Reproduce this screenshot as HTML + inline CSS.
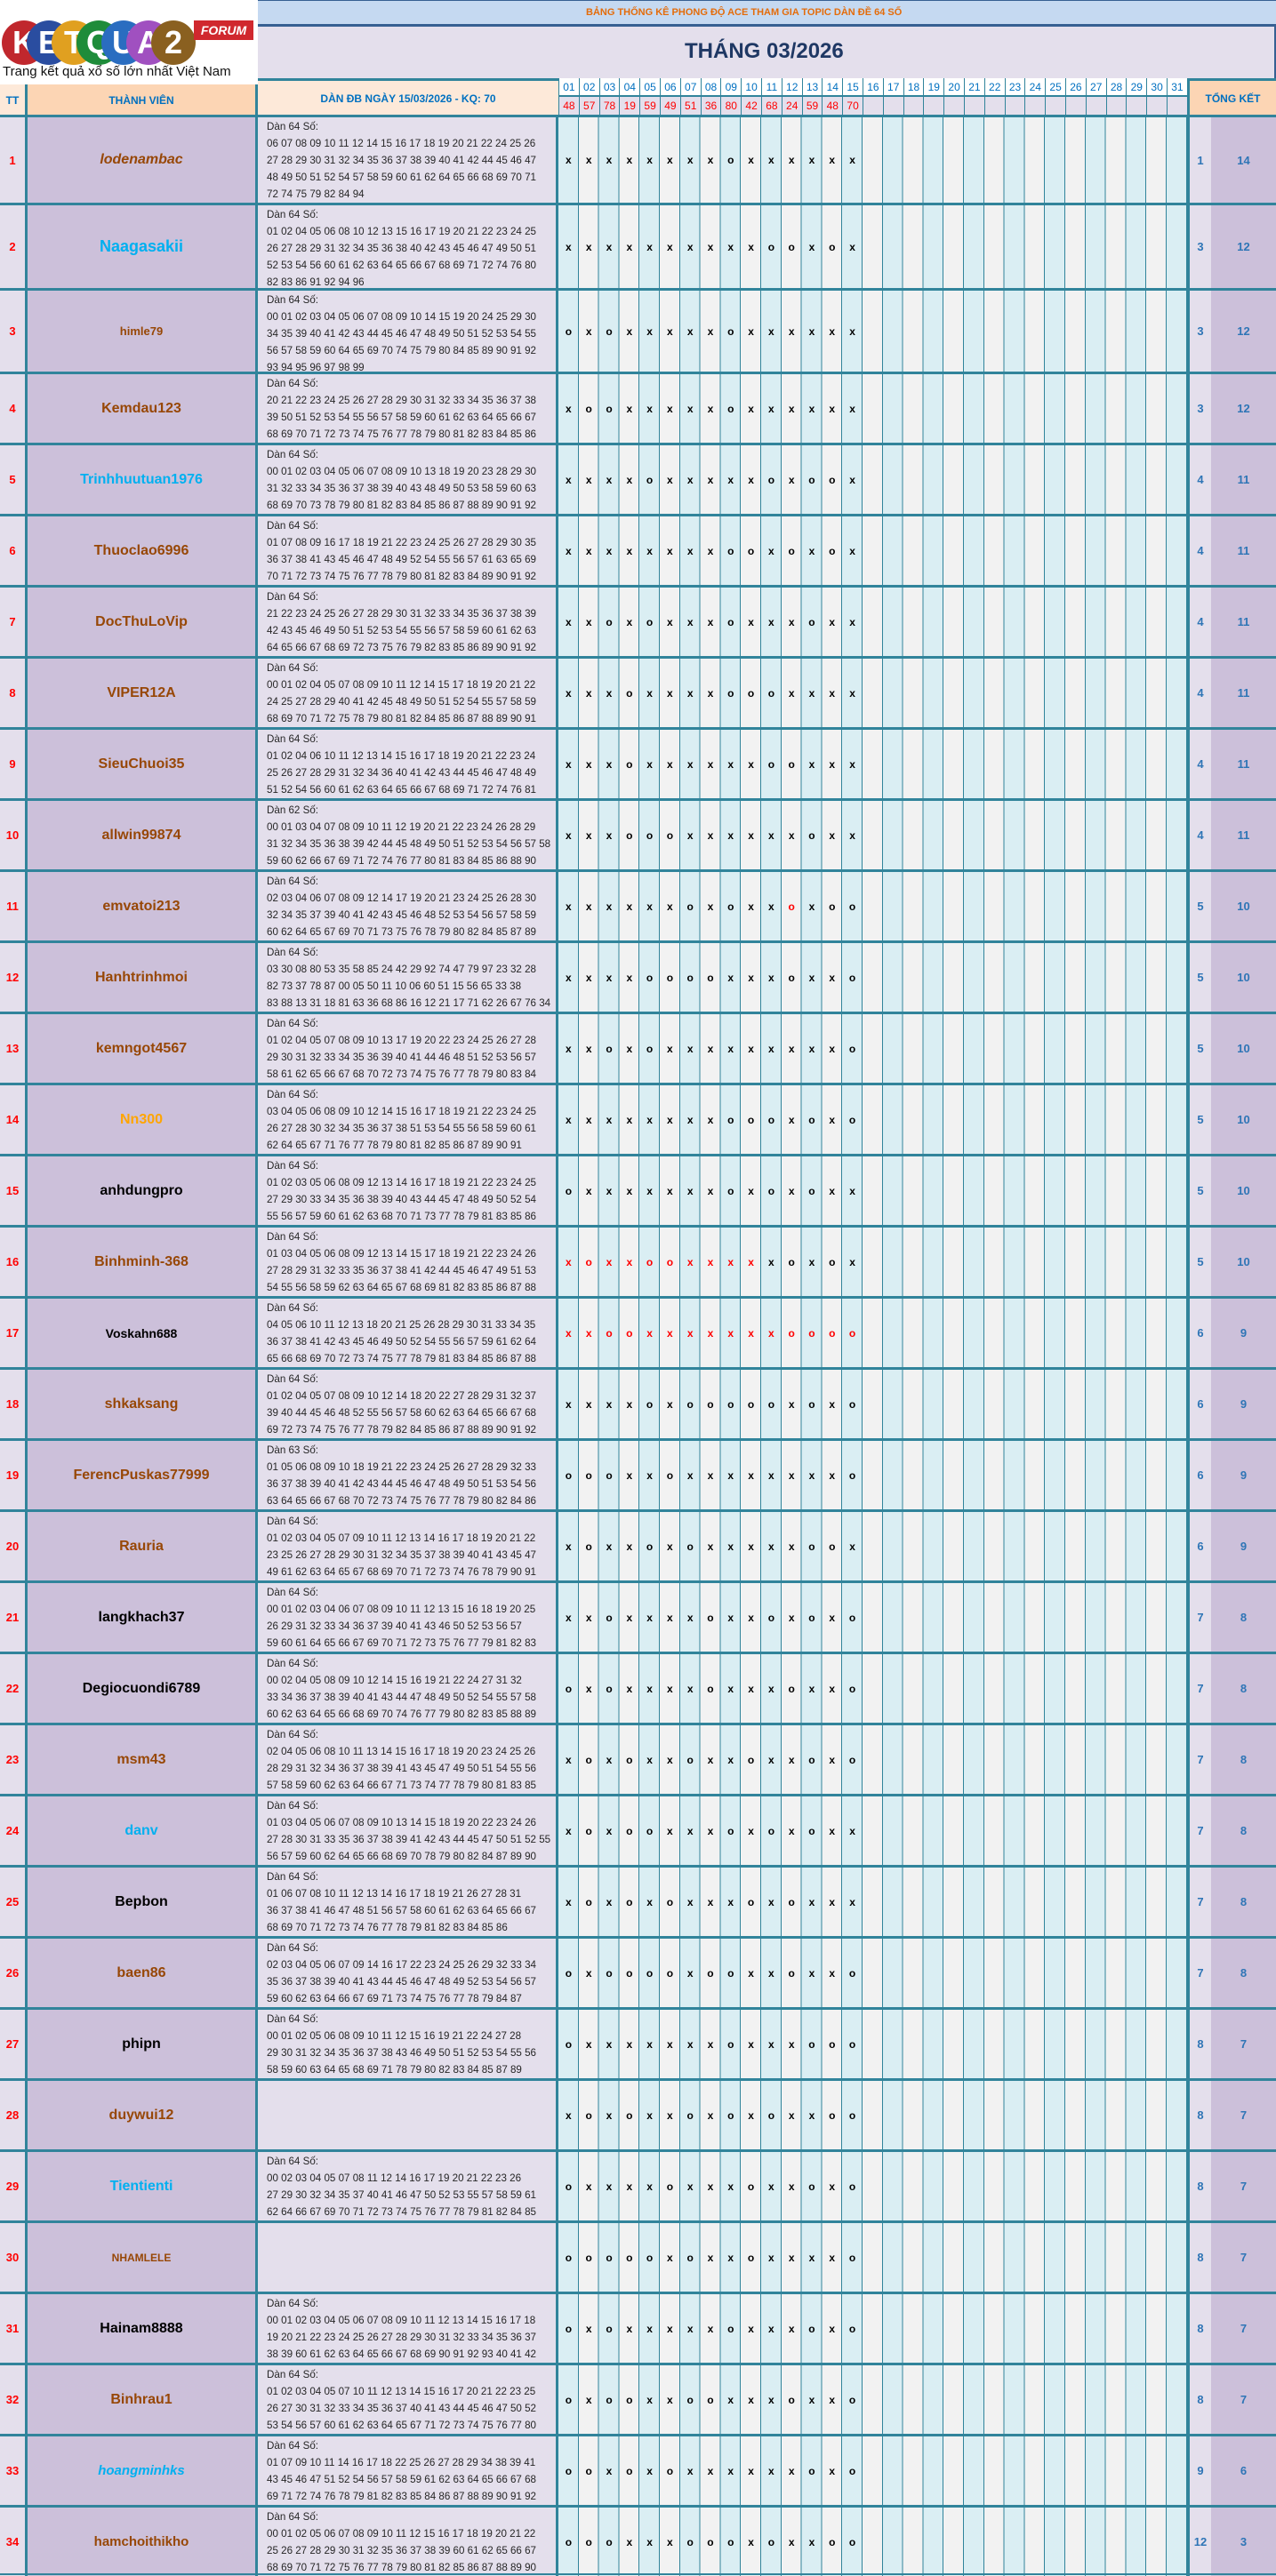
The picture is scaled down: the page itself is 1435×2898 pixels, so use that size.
<!DOCTYPE html>
<html><head><meta charset="utf-8">
<style>
*{box-sizing:border-box}
body{margin:0;width:1435px;height:2897px;position:relative;background:#e4dfec;font-family:"Liberation Sans",sans-serif;overflow:hidden}
.a{position:absolute}
.r{position:absolute;left:0;width:1435px;height:80px;border-top:3px solid #31849b;overflow:hidden}
.r>div{position:absolute;top:0;bottom:0}
.tt{left:0;width:28px;background:#e4dfec;color:#f00;font-weight:bold;font-size:13px;display:flex;align-items:center;justify-content:center}
.nm{left:28px;width:262px;background:#ccc0da;border-left:3px solid #31849b;border-right:3px solid #31849b;display:flex;align-items:center;justify-content:center;font-weight:bold;font-size:16px;color:#974706}
.dn{left:290px;width:338px;background:#e4dfec;border-right:3px solid #31849b;padding:1px 0 0 10px;font-size:11.6px;line-height:19px;color:#262626;white-space:nowrap;overflow:hidden}
.dy{left:628px;width:707px;background:repeating-linear-gradient(90deg,#daeef3 0 21.8px,#31849b 21.8px 22.8px,#f2f2f2 22.8px 44.6px,#31849b 44.6px 45.6px);display:flex;align-items:center}
.dy i{font-style:normal;width:22.8px;text-align:center;font-weight:bold;font-size:12px;color:#000}
.red i{color:#f00}
.c1{left:1335px;width:27px;background:#e4dfec;border-left:3px solid #31849b;color:#2e75b6;font-weight:bold;font-size:13px;display:flex;align-items:center;justify-content:center}
.c2{left:1362px;width:73px;background:#ccc0da;color:#2e75b6;font-weight:bold;font-size:13px;display:flex;align-items:center;justify-content:center}
.sb{color:#00b0f0}.bk{color:#000}.og{color:#ffa500}
.circ{position:absolute;top:23px;width:50px;height:50px;border-radius:50%;color:#fff;font-weight:bold;font-size:36px;text-align:center;line-height:50px}
.hd{position:absolute;top:88px;height:20px;width:22.8px;text-align:center;font-size:12px;color:#0070c0;line-height:20px;background:#fff;border-left:1px solid #31849b}
.hr{position:absolute;top:108px;height:22px;width:22.8px;text-align:center;font-size:12px;color:#f00;line-height:22px;border-left:1px solid #31849b;background:#e4dfec}
</style></head><body>
<div class="a" style="left:0;top:0;width:290px;height:95px;background:#fff"></div>
<div class="circ" style="left:2px;background:#c0272d">K</div>
<div class="circ" style="left:30px;background:#2a4da0">E</div>
<div class="circ" style="left:58px;background:#e0a020">T</div>
<div class="circ" style="left:86px;background:#1e8c3a">Q</div>
<div class="circ" style="left:114px;background:#2a6dc0">U</div>
<div class="circ" style="left:142px;background:#a050c0">A</div>
<div class="circ" style="left:170px;background:#8a6020">2</div>
<div class="a" style="left:218px;top:23px;width:67px;height:22px;background:#d0282e;color:#fff;font-weight:bold;font-style:italic;font-size:14px;text-align:center;line-height:22px">FORUM</div>
<div class="a" style="left:3px;top:72px;font-size:15px;color:#111;white-space:nowrap">Trang kết quả xổ số lớn nhất Việt Nam</div>
<div class="a" style="left:290px;top:0;width:1145px;height:30px;background:#c5d9f1;border-top:1px solid #366092;border-bottom:3px solid #366092"></div>
<div class="a" style="left:659px;top:8px;font-size:11px;font-weight:bold;color:#e46c0a;white-space:nowrap">BẢNG THỐNG KÊ PHONG ĐỘ ACE THAM GIA TOPIC DÀN ĐỀ 64 SỐ</div>
<div class="a" style="left:290px;top:30px;width:1145px;height:58px;background:#e4dfec;border-right:2px solid #366092"></div>
<div class="a" style="left:770px;top:44px;font-size:24px;font-weight:bold;color:#1f3864">THÁNG 03/2026</div>
<div class="a" style="left:0;top:95px;width:28px;height:36px;background:#fde9d9;color:#0070c0;font-weight:bold;font-size:12px;text-align:center;line-height:36px">TT</div>
<div class="a" style="left:28px;top:95px;width:262px;height:36px;background:#fcd5b4;border-left:3px solid #31849b;border-right:3px solid #31849b;color:#0070c0;font-weight:bold;font-size:12px;text-align:center;line-height:36px">THÀNH VIÊN</div>
<div class="a" style="left:290px;top:88px;width:338px;height:43px;background:#fde9d9;border-top:3px solid #31849b;color:#0070c0;font-weight:bold;font-size:12px;text-align:center;line-height:40px">DÀN ĐB NGÀY 15/03/2026 - KQ: 70</div>
<div class="a" style="left:628px;top:88px;width:707px;height:43px;background:#fff;border-top:3px solid #31849b"></div>
<div class="hd" style="left:628.0px">01</div><div class="hd" style="left:650.8px">02</div><div class="hd" style="left:673.6px">03</div><div class="hd" style="left:696.4px">04</div><div class="hd" style="left:719.2px">05</div><div class="hd" style="left:742.0px">06</div><div class="hd" style="left:764.8px">07</div><div class="hd" style="left:787.6px">08</div><div class="hd" style="left:810.4px">09</div><div class="hd" style="left:833.2px">10</div><div class="hd" style="left:856.0px">11</div><div class="hd" style="left:878.8px">12</div><div class="hd" style="left:901.6px">13</div><div class="hd" style="left:924.4px">14</div><div class="hd" style="left:947.2px">15</div><div class="hd" style="left:970.0px">16</div><div class="hd" style="left:992.8px">17</div><div class="hd" style="left:1015.6px">18</div><div class="hd" style="left:1038.4px">19</div><div class="hd" style="left:1061.2px">20</div><div class="hd" style="left:1084.0px">21</div><div class="hd" style="left:1106.8px">22</div><div class="hd" style="left:1129.6px">23</div><div class="hd" style="left:1152.4px">24</div><div class="hd" style="left:1175.2px">25</div><div class="hd" style="left:1198.0px">26</div><div class="hd" style="left:1220.8px">27</div><div class="hd" style="left:1243.6px">28</div><div class="hd" style="left:1266.4px">29</div><div class="hd" style="left:1289.2px">30</div><div class="hd" style="left:1312.0px">31</div>
<div class="hr" style="left:628.0px">48</div><div class="hr" style="left:650.8px">57</div><div class="hr" style="left:673.6px">78</div><div class="hr" style="left:696.4px">19</div><div class="hr" style="left:719.2px">59</div><div class="hr" style="left:742.0px">49</div><div class="hr" style="left:764.8px">51</div><div class="hr" style="left:787.6px">36</div><div class="hr" style="left:810.4px">80</div><div class="hr" style="left:833.2px">42</div><div class="hr" style="left:856.0px">68</div><div class="hr" style="left:878.8px">24</div><div class="hr" style="left:901.6px">59</div><div class="hr" style="left:924.4px">48</div><div class="hr" style="left:947.2px">70</div><div class="hr" style="left:970.0px"></div><div class="hr" style="left:992.8px"></div><div class="hr" style="left:1015.6px"></div><div class="hr" style="left:1038.4px"></div><div class="hr" style="left:1061.2px"></div><div class="hr" style="left:1084.0px"></div><div class="hr" style="left:1106.8px"></div><div class="hr" style="left:1129.6px"></div><div class="hr" style="left:1152.4px"></div><div class="hr" style="left:1175.2px"></div><div class="hr" style="left:1198.0px"></div><div class="hr" style="left:1220.8px"></div><div class="hr" style="left:1243.6px"></div><div class="hr" style="left:1266.4px"></div><div class="hr" style="left:1289.2px"></div><div class="hr" style="left:1312.0px"></div>
<div class="a" style="left:628px;top:107px;width:707px;height:2px;background:#31849b"></div>
<div class="a" style="left:1335px;top:88px;width:100px;height:43px;background:#fcd5b4;border-left:3px solid #31849b;border-top:3px solid #31849b;color:#0070c0;font-weight:bold;font-size:12px;text-align:center;line-height:40px">TỔNG KẾT</div>

<div class="r" style="top:129px;height:99px"><div class="tt">1</div><div class="nm" style="font-style:italic">lodenambac</div><div class="dn">Dàn 64 Số:<br>06 07 08 09 10 11 12 14 15 16 17 18 19 20 21 22 24 25 26<br>27 28 29 30 31 32 34 35 36 37 38 39 40 41 42 44 45 46 47<br>48 49 50 51 52 54 57 58 59 60 61 62 64 65 66 68 69 70 71<br>72 74 75 79 82 84 94</div><div class="dy"><i>x</i><i>x</i><i>x</i><i>x</i><i>x</i><i>x</i><i>x</i><i>x</i><i>o</i><i>x</i><i>x</i><i>x</i><i>x</i><i>x</i><i>x</i></div><div class="c1">1</div><div class="c2">14</div></div>
<div class="r" style="top:228px;height:96px"><div class="tt">2</div><div class="nm sb" style="font-size:18px">Naagasakii</div><div class="dn">Dàn 64 Số:<br>01 02 04 05 06 08 10 12 13 15 16 17 19 20 21 22 23 24 25<br>26 27 28 29 31 32 34 35 36 38 40 42 43 45 46 47 49 50 51<br>52 53 54 56 60 61 62 63 64 65 66 67 68 69 71 72 74 76 80<br>82 83 86 91 92 94 96</div><div class="dy"><i>x</i><i>x</i><i>x</i><i>x</i><i>x</i><i>x</i><i>x</i><i>x</i><i>x</i><i>x</i><i>o</i><i>o</i><i>x</i><i>o</i><i>x</i></div><div class="c1">3</div><div class="c2">12</div></div>
<div class="r" style="top:324px;height:94px"><div class="tt">3</div><div class="nm" style="font-size:13px">himle79</div><div class="dn">Dàn 64 Số:<br>00 01 02 03 04 05 06 07 08 09 10 14 15 19 20 24 25 29 30<br>34 35 39 40 41 42 43 44 45 46 47 48 49 50 51 52 53 54 55<br>56 57 58 59 60 64 65 69 70 74 75 79 80 84 85 89 90 91 92<br>93 94 95 96 97 98 99</div><div class="dy"><i>o</i><i>x</i><i>o</i><i>x</i><i>x</i><i>x</i><i>x</i><i>x</i><i>o</i><i>x</i><i>x</i><i>x</i><i>x</i><i>x</i><i>x</i></div><div class="c1">3</div><div class="c2">12</div></div>
<div class="r" style="top:418px"><div class="tt">4</div><div class="nm">Kemdau123</div><div class="dn">Dàn 64 Số:<br>20 21 22 23 24 25 26 27 28 29 30 31 32 33 34 35 36 37 38<br>39 50 51 52 53 54 55 56 57 58 59 60 61 62 63 64 65 66 67<br>68 69 70 71 72 73 74 75 76 77 78 79 80 81 82 83 84 85 86</div><div class="dy"><i>x</i><i>o</i><i>o</i><i>x</i><i>x</i><i>x</i><i>x</i><i>x</i><i>o</i><i>x</i><i>x</i><i>x</i><i>x</i><i>x</i><i>x</i></div><div class="c1">3</div><div class="c2">12</div></div>
<div class="r" style="top:498px"><div class="tt">5</div><div class="nm sb">Trinhhuutuan1976</div><div class="dn">Dàn 64 Số:<br>00 01 02 03 04 05 06 07 08 09 10 13 18 19 20 23 28 29 30<br>31 32 33 34 35 36 37 38 39 40 43 48 49 50 53 58 59 60 63<br>68 69 70 73 78 79 80 81 82 83 84 85 86 87 88 89 90 91 92</div><div class="dy"><i>x</i><i>x</i><i>x</i><i>x</i><i>o</i><i>x</i><i>x</i><i>x</i><i>x</i><i>x</i><i>o</i><i>x</i><i>o</i><i>o</i><i>x</i></div><div class="c1">4</div><div class="c2">11</div></div>
<div class="r" style="top:578px"><div class="tt">6</div><div class="nm">Thuoclao6996</div><div class="dn">Dàn 64 Số:<br>01 07 08 09 16 17 18 19 21 22 23 24 25 26 27 28 29 30 35<br>36 37 38 41 43 45 46 47 48 49 52 54 55 56 57 61 63 65 69<br>70 71 72 73 74 75 76 77 78 79 80 81 82 83 84 89 90 91 92</div><div class="dy"><i>x</i><i>x</i><i>x</i><i>x</i><i>x</i><i>x</i><i>x</i><i>x</i><i>o</i><i>o</i><i>x</i><i>o</i><i>x</i><i>o</i><i>x</i></div><div class="c1">4</div><div class="c2">11</div></div>
<div class="r" style="top:658px"><div class="tt">7</div><div class="nm">DocThuLoVip</div><div class="dn">Dàn 64 Số:<br>21 22 23 24 25 26 27 28 29 30 31 32 33 34 35 36 37 38 39<br>42 43 45 46 49 50 51 52 53 54 55 56 57 58 59 60 61 62 63<br>64 65 66 67 68 69 72 73 75 76 79 82 83 85 86 89 90 91 92</div><div class="dy"><i>x</i><i>x</i><i>o</i><i>x</i><i>o</i><i>x</i><i>x</i><i>x</i><i>o</i><i>x</i><i>x</i><i>x</i><i>o</i><i>x</i><i>x</i></div><div class="c1">4</div><div class="c2">11</div></div>
<div class="r" style="top:738px"><div class="tt">8</div><div class="nm">VIPER12A</div><div class="dn">Dàn 64 Số:<br>00 01 02 04 05 07 08 09 10 11 12 14 15 17 18 19 20 21 22<br>24 25 27 28 29 40 41 42 45 48 49 50 51 52 54 55 57 58 59<br>68 69 70 71 72 75 78 79 80 81 82 84 85 86 87 88 89 90 91</div><div class="dy"><i>x</i><i>x</i><i>x</i><i>o</i><i>x</i><i>x</i><i>x</i><i>x</i><i>o</i><i>o</i><i>o</i><i>x</i><i>x</i><i>x</i><i>x</i></div><div class="c1">4</div><div class="c2">11</div></div>
<div class="r" style="top:818px"><div class="tt">9</div><div class="nm">SieuChuoi35</div><div class="dn">Dàn 64 Số:<br>01 02 04 06 10 11 12 13 14 15 16 17 18 19 20 21 22 23 24<br>25 26 27 28 29 31 32 34 36 40 41 42 43 44 45 46 47 48 49<br>51 52 54 56 60 61 62 63 64 65 66 67 68 69 71 72 74 76 81</div><div class="dy"><i>x</i><i>x</i><i>x</i><i>o</i><i>x</i><i>x</i><i>x</i><i>x</i><i>x</i><i>x</i><i>o</i><i>o</i><i>x</i><i>x</i><i>x</i></div><div class="c1">4</div><div class="c2">11</div></div>
<div class="r" style="top:898px"><div class="tt">10</div><div class="nm">allwin99874</div><div class="dn">Dàn 62 Số:<br>00 01 03 04 07 08 09 10 11 12 19 20 21 22 23 24 26 28 29<br>31 32 34 35 36 38 39 42 44 45 48 49 50 51 52 53 54 56 57 58<br>59 60 62 66 67 69 71 72 74 76 77 80 81 83 84 85 86 88 90</div><div class="dy"><i>x</i><i>x</i><i>x</i><i>o</i><i>o</i><i>o</i><i>x</i><i>x</i><i>x</i><i>x</i><i>x</i><i>x</i><i>o</i><i>x</i><i>x</i></div><div class="c1">4</div><div class="c2">11</div></div>
<div class="r" style="top:978px"><div class="tt">11</div><div class="nm">emvatoi213</div><div class="dn">Dàn 64 Số:<br>02 03 04 06 07 08 09 12 14 17 19 20 21 23 24 25 26 28 30<br>32 34 35 37 39 40 41 42 43 45 46 48 52 53 54 56 57 58 59<br>60 62 64 65 67 69 70 71 73 75 76 78 79 80 82 84 85 87 89</div><div class="dy"><i>x</i><i>x</i><i>x</i><i>x</i><i>x</i><i>x</i><i>o</i><i>x</i><i>o</i><i>x</i><i>x</i><i style="color:#f00">o</i><i>x</i><i>o</i><i>o</i></div><div class="c1">5</div><div class="c2">10</div></div>
<div class="r" style="top:1058px"><div class="tt">12</div><div class="nm">Hanhtrinhmoi</div><div class="dn">Dàn 64 Số:<br>03 30 08 80 53 35 58 85 24 42 29 92 74 47 79 97 23 32 28<br>82 73 37 78 87 00 05 50 11 10 06 60 51 15 56 65 33 38<br>83 88 13 31 18 81 63 36 68 86 16 12 21 17 71 62 26 67 76 34</div><div class="dy"><i>x</i><i>x</i><i>x</i><i>x</i><i>o</i><i>o</i><i>o</i><i>o</i><i>x</i><i>x</i><i>x</i><i>o</i><i>x</i><i>x</i><i>o</i></div><div class="c1">5</div><div class="c2">10</div></div>
<div class="r" style="top:1138px"><div class="tt">13</div><div class="nm">kemngot4567</div><div class="dn">Dàn 64 Số:<br>01 02 04 05 07 08 09 10 13 17 19 20 22 23 24 25 26 27 28<br>29 30 31 32 33 34 35 36 39 40 41 44 46 48 51 52 53 56 57<br>58 61 62 65 66 67 68 70 72 73 74 75 76 77 78 79 80 83 84</div><div class="dy"><i>x</i><i>x</i><i>o</i><i>x</i><i>o</i><i>x</i><i>x</i><i>x</i><i>x</i><i>x</i><i>x</i><i>x</i><i>x</i><i>x</i><i>o</i></div><div class="c1">5</div><div class="c2">10</div></div>
<div class="r" style="top:1218px"><div class="tt">14</div><div class="nm og">Nn300</div><div class="dn">Dàn 64 Số:<br>03 04 05 06 08 09 10 12 14 15 16 17 18 19 21 22 23 24 25<br>26 27 28 30 32 34 35 36 37 38 51 53 54 55 56 58 59 60 61<br>62 64 65 67 71 76 77 78 79 80 81 82 85 86 87 89 90 91</div><div class="dy"><i>x</i><i>x</i><i>x</i><i>x</i><i>x</i><i>x</i><i>x</i><i>x</i><i>o</i><i>o</i><i>o</i><i>x</i><i>o</i><i>x</i><i>o</i></div><div class="c1">5</div><div class="c2">10</div></div>
<div class="r" style="top:1298px"><div class="tt">15</div><div class="nm bk">anhdungpro</div><div class="dn">Dàn 64 Số:<br>01 02 03 05 06 08 09 12 13 14 16 17 18 19 21 22 23 24 25<br>27 29 30 33 34 35 36 38 39 40 43 44 45 47 48 49 50 52 54<br>55 56 57 59 60 61 62 63 68 70 71 73 77 78 79 81 83 85 86</div><div class="dy"><i>o</i><i>x</i><i>x</i><i>x</i><i>x</i><i>x</i><i>x</i><i>x</i><i>o</i><i>x</i><i>o</i><i>x</i><i>o</i><i>x</i><i>x</i></div><div class="c1">5</div><div class="c2">10</div></div>
<div class="r" style="top:1378px"><div class="tt">16</div><div class="nm">Binhminh-368</div><div class="dn">Dàn 64 Số:<br>01 03 04 05 06 08 09 12 13 14 15 17 18 19 21 22 23 24 26<br>27 28 29 31 32 33 35 36 37 38 41 42 44 45 46 47 49 51 53<br>54 55 56 58 59 62 63 64 65 67 68 69 81 82 83 85 86 87 88</div><div class="dy red"><i>x</i><i>o</i><i>x</i><i>x</i><i>o</i><i>o</i><i>x</i><i>x</i><i>x</i><i>x</i><i style="color:#000">x</i><i style="color:#000">o</i><i style="color:#000">x</i><i style="color:#000">o</i><i style="color:#000">x</i></div><div class="c1">5</div><div class="c2">10</div></div>
<div class="r" style="top:1458px"><div class="tt">17</div><div class="nm bk" style="font-size:14px">Voskahn688</div><div class="dn">Dàn 64 Số:<br>04 05 06 10 11 12 13 18 20 21 25 26 28 29 30 31 33 34 35<br>36 37 38 41 42 43 45 46 49 50 52 54 55 56 57 59 61 62 64<br>65 66 68 69 70 72 73 74 75 77 78 79 81 83 84 85 86 87 88</div><div class="dy red"><i>x</i><i>x</i><i>o</i><i>o</i><i>x</i><i>x</i><i>x</i><i>x</i><i>x</i><i>x</i><i>x</i><i>o</i><i>o</i><i>o</i><i>o</i></div><div class="c1">6</div><div class="c2">9</div></div>
<div class="r" style="top:1538px"><div class="tt">18</div><div class="nm">shkaksang</div><div class="dn">Dàn 64 Số:<br>01 02 04 05 07 08 09 10 12 14 18 20 22 27 28 29 31 32 37<br>39 40 44 45 46 48 52 55 56 57 58 60 62 63 64 65 66 67 68<br>69 72 73 74 75 76 77 78 79 82 84 85 86 87 88 89 90 91 92</div><div class="dy"><i>x</i><i>x</i><i>x</i><i>x</i><i>o</i><i>x</i><i>o</i><i>o</i><i>o</i><i>o</i><i>o</i><i>x</i><i>o</i><i>x</i><i>o</i></div><div class="c1">6</div><div class="c2">9</div></div>
<div class="r" style="top:1618px"><div class="tt">19</div><div class="nm">FerencPuskas77999</div><div class="dn">Dàn 63 Số:<br>01 05 06 08 09 10 18 19 21 22 23 24 25 26 27 28 29 32 33<br>36 37 38 39 40 41 42 43 44 45 46 47 48 49 50 51 53 54 56<br>63 64 65 66 67 68 70 72 73 74 75 76 77 78 79 80 82 84 86</div><div class="dy"><i>o</i><i>o</i><i>o</i><i>x</i><i>x</i><i>o</i><i>x</i><i>x</i><i>x</i><i>x</i><i>x</i><i>x</i><i>x</i><i>x</i><i>o</i></div><div class="c1">6</div><div class="c2">9</div></div>
<div class="r" style="top:1698px"><div class="tt">20</div><div class="nm">Rauria</div><div class="dn">Dàn 64 Số:<br>01 02 03 04 05 07 09 10 11 12 13 14 16 17 18 19 20 21 22<br>23 25 26 27 28 29 30 31 32 34 35 37 38 39 40 41 43 45 47<br>49 61 62 63 64 65 67 68 69 70 71 72 73 74 76 78 79 90 91</div><div class="dy"><i>x</i><i>o</i><i>x</i><i>x</i><i>o</i><i>x</i><i>o</i><i>x</i><i>x</i><i>x</i><i>x</i><i>x</i><i>o</i><i>o</i><i>x</i></div><div class="c1">6</div><div class="c2">9</div></div>
<div class="r" style="top:1778px"><div class="tt">21</div><div class="nm bk">langkhach37</div><div class="dn">Dàn 64 Số:<br>00 01 02 03 04 06 07 08 09 10 11 12 13 15 16 18 19 20 25<br>26 29 31 32 33 34 36 37 39 40 41 43 46 50 52 53 56 57<br>59 60 61 64 65 66 67 69 70 71 72 73 75 76 77 79 81 82 83</div><div class="dy"><i>x</i><i>x</i><i>o</i><i>x</i><i>x</i><i>x</i><i>x</i><i>o</i><i>x</i><i>x</i><i>o</i><i>x</i><i>o</i><i>x</i><i>o</i></div><div class="c1">7</div><div class="c2">8</div></div>
<div class="r" style="top:1858px"><div class="tt">22</div><div class="nm bk">Degiocuondi6789</div><div class="dn">Dàn 64 Số:<br>00 02 04 05 08 09 10 12 14 15 16 19 21 22 24 27 31 32<br>33 34 36 37 38 39 40 41 43 44 47 48 49 50 52 54 55 57 58<br>60 62 63 64 65 66 68 69 70 74 76 77 79 80 82 83 85 88 89</div><div class="dy"><i>o</i><i>x</i><i>o</i><i>x</i><i>x</i><i>x</i><i>x</i><i>o</i><i>x</i><i>x</i><i>x</i><i>o</i><i>x</i><i>x</i><i>o</i></div><div class="c1">7</div><div class="c2">8</div></div>
<div class="r" style="top:1938px"><div class="tt">23</div><div class="nm">msm43</div><div class="dn">Dàn 64 Số:<br>02 04 05 06 08 10 11 13 14 15 16 17 18 19 20 23 24 25 26<br>28 29 31 32 34 36 37 38 39 41 43 45 47 49 50 51 54 55 56<br>57 58 59 60 62 63 64 66 67 71 73 74 77 78 79 80 81 83 85</div><div class="dy"><i>x</i><i>o</i><i>x</i><i>o</i><i>x</i><i>x</i><i>o</i><i>x</i><i>x</i><i>o</i><i>x</i><i>x</i><i>o</i><i>x</i><i>o</i></div><div class="c1">7</div><div class="c2">8</div></div>
<div class="r" style="top:2018px"><div class="tt">24</div><div class="nm sb">danv</div><div class="dn">Dàn 64 Số:<br>01 03 04 05 06 07 08 09 10 13 14 15 18 19 20 22 23 24 26<br>27 28 30 31 33 35 36 37 38 39 41 42 43 44 45 47 50 51 52 55<br>56 57 59 60 62 64 65 66 68 69 70 78 79 80 82 84 87 89 90</div><div class="dy"><i>x</i><i>o</i><i>x</i><i>o</i><i>o</i><i>x</i><i>x</i><i>x</i><i>o</i><i>x</i><i>o</i><i>x</i><i>o</i><i>x</i><i>x</i></div><div class="c1">7</div><div class="c2">8</div></div>
<div class="r" style="top:2098px"><div class="tt">25</div><div class="nm bk">Bepbon</div><div class="dn">Dàn 64 Số:<br>01 06 07 08 10 11 12 13 14 16 17 18 19 21 26 27 28 31<br>36 37 38 41 46 47 48 51 56 57 58 60 61 62 63 64 65 66 67<br>68 69 70 71 72 73 74 76 77 78 79 81 82 83 84 85 86</div><div class="dy"><i>x</i><i>o</i><i>x</i><i>o</i><i>x</i><i>o</i><i>x</i><i>x</i><i>x</i><i>o</i><i>x</i><i>o</i><i>x</i><i>x</i><i>x</i></div><div class="c1">7</div><div class="c2">8</div></div>
<div class="r" style="top:2178px"><div class="tt">26</div><div class="nm">baen86</div><div class="dn">Dàn 64 Số:<br>02 03 04 05 06 07 09 14 16 17 22 23 24 25 26 29 32 33 34<br>35 36 37 38 39 40 41 43 44 45 46 47 48 49 52 53 54 56 57<br>59 60 62 63 64 66 67 69 71 73 74 75 76 77 78 79 84 87</div><div class="dy"><i>o</i><i>x</i><i>o</i><i>o</i><i>o</i><i>o</i><i>x</i><i>o</i><i>o</i><i>x</i><i>x</i><i>o</i><i>x</i><i>x</i><i>o</i></div><div class="c1">7</div><div class="c2">8</div></div>
<div class="r" style="top:2258px"><div class="tt">27</div><div class="nm bk">phipn</div><div class="dn">Dàn 64 Số:<br>00 01 02 05 06 08 09 10 11 12 15 16 19 21 22 24 27 28<br>29 30 31 32 34 35 36 37 38 43 46 49 50 51 52 53 54 55 56<br>58 59 60 63 64 65 68 69 71 78 79 80 82 83 84 85 87 89</div><div class="dy"><i>o</i><i>x</i><i>x</i><i>x</i><i>x</i><i>x</i><i>x</i><i>x</i><i>o</i><i>x</i><i>x</i><i>x</i><i>o</i><i>o</i><i>o</i></div><div class="c1">8</div><div class="c2">7</div></div>
<div class="r" style="top:2338px"><div class="tt">28</div><div class="nm">duywui12</div><div class="dn"></div><div class="dy"><i>x</i><i>o</i><i>x</i><i>o</i><i>x</i><i>x</i><i>o</i><i>x</i><i>o</i><i>x</i><i>o</i><i>x</i><i>x</i><i>o</i><i>o</i></div><div class="c1">8</div><div class="c2">7</div></div>
<div class="r" style="top:2418px"><div class="tt">29</div><div class="nm sb">Tientienti</div><div class="dn">Dàn 64 Số:<br>00 02 03 04 05 07 08 11 12 14 16 17 19 20 21 22 23 26<br>27 29 30 32 34 35 37 40 41 46 47 50 52 53 55 57 58 59 61<br>62 64 66 67 69 70 71 72 73 74 75 76 77 78 79 81 82 84 85</div><div class="dy"><i>o</i><i>x</i><i>x</i><i>x</i><i>x</i><i>o</i><i>x</i><i>x</i><i>x</i><i>o</i><i>x</i><i>x</i><i>o</i><i>x</i><i>o</i></div><div class="c1">8</div><div class="c2">7</div></div>
<div class="r" style="top:2498px"><div class="tt">30</div><div class="nm" style="font-size:12px">NHAMLELE</div><div class="dn"></div><div class="dy"><i>o</i><i>o</i><i>o</i><i>o</i><i>o</i><i>x</i><i>o</i><i>x</i><i>x</i><i>o</i><i>x</i><i>x</i><i>x</i><i>x</i><i>o</i></div><div class="c1">8</div><div class="c2">7</div></div>
<div class="r" style="top:2578px"><div class="tt">31</div><div class="nm bk">Hainam8888</div><div class="dn">Dàn 64 Số:<br>00 01 02 03 04 05 06 07 08 09 10 11 12 13 14 15 16 17 18<br>19 20 21 22 23 24 25 26 27 28 29 30 31 32 33 34 35 36 37<br>38 39 60 61 62 63 64 65 66 67 68 69 90 91 92 93 40 41 42</div><div class="dy"><i>o</i><i>x</i><i>o</i><i>x</i><i>x</i><i>x</i><i>x</i><i>x</i><i>o</i><i>x</i><i>x</i><i>x</i><i>o</i><i>x</i><i>o</i></div><div class="c1">8</div><div class="c2">7</div></div>
<div class="r" style="top:2658px"><div class="tt">32</div><div class="nm">Binhrau1</div><div class="dn">Dàn 64 Số:<br>01 02 03 04 05 07 10 11 12 13 14 15 16 17 20 21 22 23 25<br>26 27 30 31 32 33 34 35 36 37 40 41 43 44 45 46 47 50 52<br>53 54 56 57 60 61 62 63 64 65 67 71 72 73 74 75 76 77 80</div><div class="dy"><i>o</i><i>x</i><i>o</i><i>o</i><i>x</i><i>x</i><i>o</i><i>o</i><i>x</i><i>x</i><i>x</i><i>o</i><i>x</i><i>x</i><i>o</i></div><div class="c1">8</div><div class="c2">7</div></div>
<div class="r" style="top:2738px"><div class="tt">33</div><div class="nm sb" style="font-style:italic;font-size:15px">hoangminhks</div><div class="dn">Dàn 64 Số:<br>01 07 09 10 11 14 16 17 18 22 25 26 27 28 29 34 38 39 41<br>43 45 46 47 51 52 54 56 57 58 59 61 62 63 64 65 66 67 68<br>69 71 72 74 76 78 79 81 82 83 85 84 86 87 88 89 90 91 92</div><div class="dy"><i>o</i><i>o</i><i>x</i><i>o</i><i>x</i><i>o</i><i>x</i><i>x</i><i>x</i><i>x</i><i>x</i><i>x</i><i>o</i><i>x</i><i>o</i></div><div class="c1">9</div><div class="c2">6</div></div>
<div class="r" style="top:2818px"><div class="tt">34</div><div class="nm" style="font-size:15px">hamchoithikho</div><div class="dn">Dàn 64 Số:<br>00 01 02 05 06 07 08 09 10 11 12 15 16 17 18 19 20 21 22<br>25 26 27 28 29 30 31 32 35 36 37 38 39 60 61 62 65 66 67<br>68 69 70 71 72 75 76 77 78 79 80 81 82 85 86 87 88 89 90</div><div class="dy"><i>o</i><i>o</i><i>o</i><i>x</i><i>x</i><i>x</i><i>o</i><i>o</i><i>o</i><i>x</i><i>o</i><i>x</i><i>x</i><i>o</i><i>o</i></div><div class="c1">12</div><div class="c2">3</div></div>
<div class="a" style="left:0;top:2895px;width:1435px;height:2px;background:#31849b"></div>
</body></html>
